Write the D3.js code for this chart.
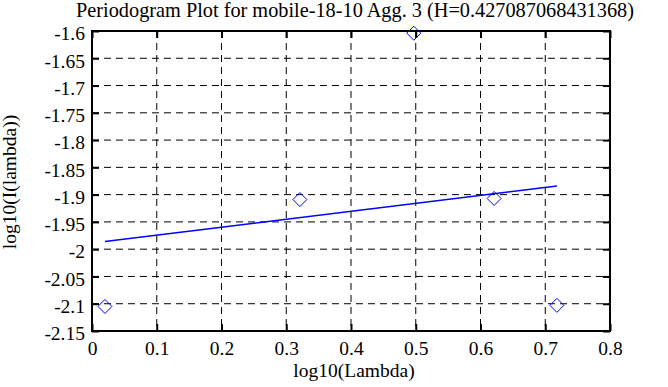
<!DOCTYPE html>
<html>
<head>
<meta charset="utf-8">
<script src="https://cdn.jsdelivr.net/npm/d3@7"></script>
<style>
body { margin: 0; background: #fff; }
svg text { font-family: serif; }
</style>
</head>
<body>
<script>
// periodogram points, log10(lambda) vs log10(I(lambda))
var logLambda = [0.020, 0.321, 0.497, 0.621, 0.718];
var logI = [-2.105, -1.909, -1.604, -1.907, -2.103];
// least squares fit ends
var fitX = [0.020, 0.718];
var fitY = [-1.986, -1.884];
var xTicks = [0, 0.1, 0.2, 0.3, 0.4, 0.5, 0.6, 0.7, 0.8];
var yTicks = [-1.6, -1.65, -1.7, -1.75, -1.8, -1.85, -1.9, -1.95, -2, -2.05, -2.1, -2.15];
var titleText = "Periodogram Plot for mobile-18-10 Agg. 3 (H=0.427087068431368)";

var W = 668, H = 387;
var pLeft = 92, pRight = 610, pTop = 31, pBottom = 331;
var FS = "19.5px";

var svg = d3.select("body").append("svg")
  .attr("width", W)
  .attr("height", H);

var x = d3.scaleLinear().domain([0, 0.8]).range([pLeft, pRight]);
var y = d3.scaleLinear().domain([-2.15, -1.6]).range([pBottom, pTop]);

var fmt = function(d) { return String(+d.toFixed(2)); };

// grid
svg.selectAll("line.gx")
  .data(xTicks.slice(1, -1))
  .enter().append("line")
  .attr("x1", function(d) { return x(d); })
  .attr("x2", function(d) { return x(d); })
  .attr("y1", pTop).attr("y2", pBottom)
  .style("stroke", "#000").style("stroke-dasharray", "7,5");

svg.selectAll("line.gy")
  .data(yTicks.slice(1, -1))
  .enter().append("line")
  .attr("y1", function(d) { return y(d); })
  .attr("y2", function(d) { return y(d); })
  .attr("x1", pLeft).attr("x2", pRight)
  .style("stroke", "#000").style("stroke-dasharray", "7,5");

// axes, ticks inward, mirrored
svg.append("g").attr("transform", "translate(0," + pBottom + ")")
  .call(d3.axisBottom(x).tickValues(xTicks).tickSizeInner(-7).tickSizeOuter(0).tickPadding(10).tickFormat(fmt));
svg.append("g").attr("transform", "translate(0," + pTop + ")")
  .call(d3.axisTop(x).tickValues(xTicks).tickSizeInner(-7).tickSizeOuter(0).tickFormat(""));
var yAx = svg.append("g").attr("transform", "translate(" + pLeft + ",0)")
  .call(d3.axisLeft(y).tickValues(yTicks).tickSizeInner(-7).tickSizeOuter(0).tickPadding(7).tickFormat(fmt));
svg.append("g").attr("transform", "translate(" + pRight + ",0)")
  .call(d3.axisRight(y).tickValues(yTicks).tickSizeInner(-7).tickSizeOuter(0).tickFormat(""));

yAx.selectAll(".tick text").attr("dy", "0.45em");
svg.selectAll(".domain").remove();
svg.selectAll("g").attr("font-family", null);
svg.selectAll(".tick line").style("stroke", "#000").style("stroke-width", 2);
svg.selectAll(".tick text").style("font-size", FS).style("fill", "#000");

svg.append("rect")
  .attr("x", pLeft).attr("y", pTop)
  .attr("width", pRight - pLeft).attr("height", pBottom - pTop)
  .style("fill", "none").style("stroke", "#000").style("stroke-width", 2);

// fit line
svg.append("line")
  .attr("x1", x(fitX[0])).attr("y1", y(fitY[0]))
  .attr("x2", x(fitX[1])).attr("y2", y(fitY[1]))
  .style("stroke", "#0000ff").style("stroke-width", 1.5);

// points
var pts = logLambda.map(function(d, i) { return {x: d, y: logI[i]}; });
svg.selectAll("path.pt")
  .data(pts)
  .enter().append("path")
  .attr("d", "M0,-7L7,0L0,7L-7,0Z")
  .attr("transform", function(d) { return "translate(" + x(d.x) + "," + y(d.y) + ")"; })
  .style("fill", "none").style("stroke", "#0000ff").style("stroke-width", 1);

// labels
svg.append("text").attr("x", 355).attr("y", 17)
  .attr("text-anchor", "middle").style("font-size", "20.3px").text(titleText);
svg.append("text").attr("x", 354).attr("y", 377)
  .attr("text-anchor", "middle").style("font-size", FS).text("log10(Lambda)");
svg.append("text")
  .attr("transform", "translate(16,182) rotate(-90)")
  .attr("text-anchor", "middle").style("font-size", FS).text("log10(I(lambda))");
</script>
</body>
</html>
